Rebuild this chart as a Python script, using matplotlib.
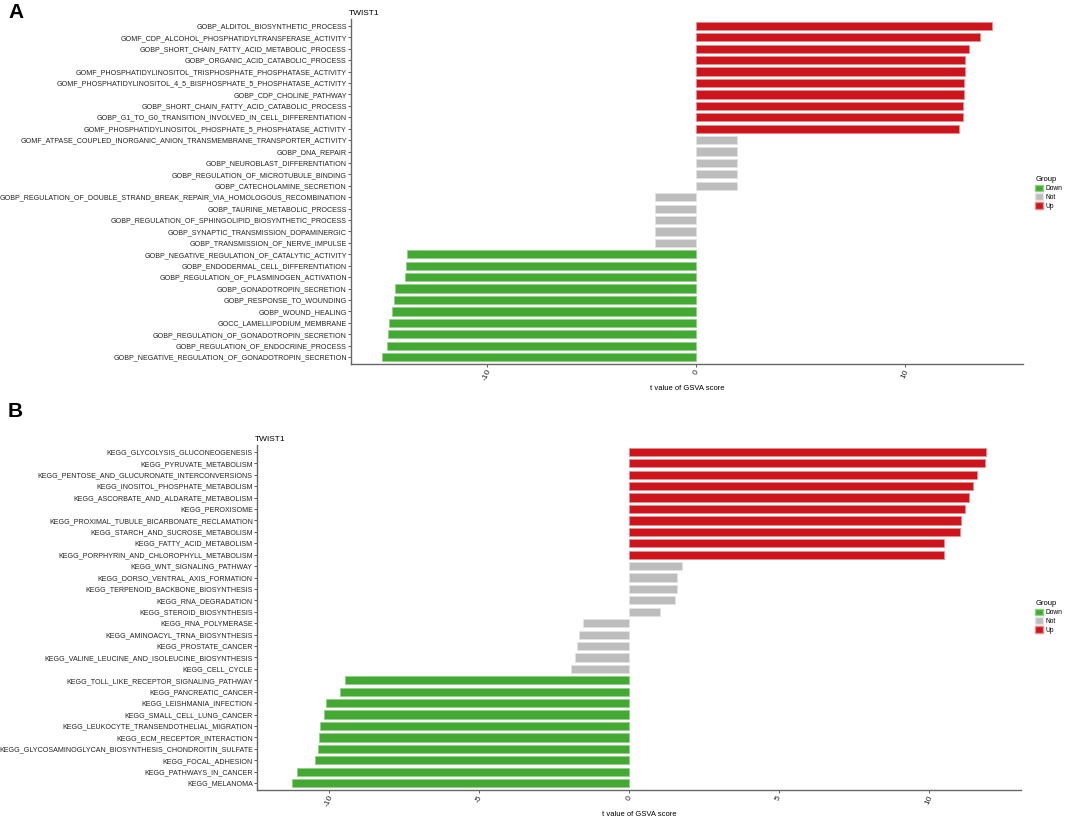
import numpy as np
import matplotlib
matplotlib.use("Agg")
import matplotlib.pyplot as plt
from matplotlib.patches import Patch

plt.rcParams['font.family'] = ['Liberation Sans', 'DejaVu Sans']

# panel A: GO terms, top to bottom
go_terms = [
    "GOBP_ALDITOL_BIOSYNTHETIC_PROCESS",
    "GOMF_CDP_ALCOHOL_PHOSPHATIDYLTRANSFERASE_ACTIVITY",
    "GOBP_SHORT_CHAIN_FATTY_ACID_METABOLIC_PROCESS",
    "GOBP_ORGANIC_ACID_CATABOLIC_PROCESS",
    "GOMF_PHOSPHATIDYLINOSITOL_TRISPHOSPHATE_PHOSPHATASE_ACTIVITY",
    "GOMF_PHOSPHATIDYLINOSITOL_4_5_BISPHOSPHATE_5_PHOSPHATASE_ACTIVITY",
    "GOBP_CDP_CHOLINE_PATHWAY",
    "GOBP_SHORT_CHAIN_FATTY_ACID_CATABOLIC_PROCESS",
    "GOBP_G1_TO_G0_TRANSITION_INVOLVED_IN_CELL_DIFFERENTIATION",
    "GOMF_PHOSPHATIDYLINOSITOL_PHOSPHATE_5_PHOSPHATASE_ACTIVITY",
    "GOMF_ATPASE_COUPLED_INORGANIC_ANION_TRANSMEMBRANE_TRANSPORTER_ACTIVITY",
    "GOBP_DNA_REPAIR",
    "GOBP_NEUROBLAST_DIFFERENTIATION",
    "GOBP_REGULATION_OF_MICROTUBULE_BINDING",
    "GOBP_CATECHOLAMINE_SECRETION",
    "GOBP_REGULATION_OF_DOUBLE_STRAND_BREAK_REPAIR_VIA_HOMOLOGOUS_RECOMBINATION",
    "GOBP_TAURINE_METABOLIC_PROCESS",
    "GOBP_REGULATION_OF_SPHINGOLIPID_BIOSYNTHETIC_PROCESS",
    "GOBP_SYNAPTIC_TRANSMISSION_DOPAMINERGIC",
    "GOBP_TRANSMISSION_OF_NERVE_IMPULSE",
    "GOBP_NEGATIVE_REGULATION_OF_CATALYTIC_ACTIVITY",
    "GOBP_ENDODERMAL_CELL_DIFFERENTIATION",
    "GOBP_REGULATION_OF_PLASMINOGEN_ACTIVATION",
    "GOBP_GONADOTROPIN_SECRETION",
    "GOBP_RESPONSE_TO_WOUNDING",
    "GOBP_WOUND_HEALING",
    "GOCC_LAMELLIPODIUM_MEMBRANE",
    "GOBP_REGULATION_OF_GONADOTROPIN_SECRETION",
    "GOBP_REGULATION_OF_ENDOCRINE_PROCESS",
    "GOBP_NEGATIVE_REGULATION_OF_GONADOTROPIN_SECRETION",
]
go_t = [14.17, 13.59, 13.06, 12.86, 12.85, 12.82, 12.80, 12.76, 12.74, 12.59,
        1.97, 1.96, 1.96, 1.95, 1.95,
        -1.96, -1.96, -1.96, -1.96, -1.97,
        -13.82, -13.87, -13.89, -14.36, -14.42, -14.51, -14.64, -14.70, -14.74, -15.02]
go_group = ["Up"] * 10 + ["Not"] * 10 + ["Down"] * 10

# panel B: KEGG pathways, top to bottom
kegg_terms = [
    "KEGG_GLYCOLYSIS_GLUCONEOGENESIS",
    "KEGG_PYRUVATE_METABOLISM",
    "KEGG_PENTOSE_AND_GLUCURONATE_INTERCONVERSIONS",
    "KEGG_INOSITOL_PHOSPHATE_METABOLISM",
    "KEGG_ASCORBATE_AND_ALDARATE_METABOLISM",
    "KEGG_PEROXISOME",
    "KEGG_PROXIMAL_TUBULE_BICARBONATE_RECLAMATION",
    "KEGG_STARCH_AND_SUCROSE_METABOLISM",
    "KEGG_FATTY_ACID_METABOLISM",
    "KEGG_PORPHYRIN_AND_CHLOROPHYLL_METABOLISM",
    "KEGG_WNT_SIGNALING_PATHWAY",
    "KEGG_DORSO_VENTRAL_AXIS_FORMATION",
    "KEGG_TERPENOID_BACKBONE_BIOSYNTHESIS",
    "KEGG_RNA_DEGRADATION",
    "KEGG_STEROID_BIOSYNTHESIS",
    "KEGG_RNA_POLYMERASE",
    "KEGG_AMINOACYL_TRNA_BIOSYNTHESIS",
    "KEGG_PROSTATE_CANCER",
    "KEGG_VALINE_LEUCINE_AND_ISOLEUCINE_BIOSYNTHESIS",
    "KEGG_CELL_CYCLE",
    "KEGG_TOLL_LIKE_RECEPTOR_SIGNALING_PATHWAY",
    "KEGG_PANCREATIC_CANCER",
    "KEGG_LEISHMANIA_INFECTION",
    "KEGG_SMALL_CELL_LUNG_CANCER",
    "KEGG_LEUKOCYTE_TRANSENDOTHELIAL_MIGRATION",
    "KEGG_ECM_RECEPTOR_INTERACTION",
    "KEGG_GLYCOSAMINOGLYCAN_BIOSYNTHESIS_CHONDROITIN_SULFATE",
    "KEGG_FOCAL_ADHESION",
    "KEGG_PATHWAYS_IN_CANCER",
    "KEGG_MELANOMA",
]
kegg_t = [11.92, 11.89, 11.60, 11.49, 11.34, 11.20, 11.08, 11.05, 10.52, 10.52,
          1.79, 1.60, 1.60, 1.55, 1.03,
          -1.53, -1.66, -1.74, -1.81, -1.94,
          -9.48, -9.63, -10.11, -10.15, -10.29, -10.34, -10.36, -10.47, -11.08, -11.24]
kegg_group = ["Up"] * 10 + ["Not"] * 10 + ["Down"] * 10

group_names = ["Down", "Not", "Up"]
group_colors = {"Down": "#43a933", "Not": "#bdbdbd", "Up": "#cb141c"}
edge_colors = {"Down": "#8fd185", "Not": "#e2e2e2", "Up": "#ee8a8e"}

W, H = 1065, 816
fig = plt.figure(figsize=(W / 100, H / 100), dpi=100)


def px_axes(left, top, right, bottom):
    return fig.add_axes([left / W, 1 - bottom / H, (right - left) / W, (bottom - top) / H])


def draw_panel(ax, terms, tvals, groups, xticks):
    n = len(terms)
    y = np.arange(n)
    ax.barh(y, tvals, height=0.72,
            color=[group_colors[g] for g in groups],
            edgecolor=[edge_colors[g] for g in groups], linewidth=0.6)
    ax.margins(x=0.05)
    ax.set_ylim(n - 0.4, -0.6)
    ax.set_yticks(y)
    ax.set_yticklabels(terms, fontsize=5.1, color="#222222")
    ax.set_xticks(xticks)
    ax.set_xticklabels([str(v) for v in xticks], fontsize=6, rotation=65,
                       ha="center", va="top", color="#222222")
    for s in ["top", "right"]:
        ax.spines[s].set_visible(False)
    for s in ["left", "bottom"]:
        ax.spines[s].set_color("#666666")
        ax.spines[s].set_linewidth(1.0)
    ax.tick_params(axis="both", length=2.2, width=0.6, color="#444444", pad=0.8)
    ax.set_xlabel("t value of GSVA score", fontsize=5.5, labelpad=2)
    ax.set_title("TWIST1", fontsize=6, loc="left", pad=3, x=-0.003)


handles = [Patch(facecolor=group_colors[g], edgecolor=edge_colors[g], label=g) for g in group_names]

axA = px_axes(351, 19, 1023, 364)
draw_panel(axA, go_terms, go_t, go_group, [-10, 0, 10])
axB = px_axes(257, 445, 1021, 790)
draw_panel(axB, kegg_terms, kegg_t, kegg_group, [-10, -5, 0, 5, 10])

for ycen in [193, 617]:
    leg = fig.legend(handles=handles, title="Group", loc="center left",
                     bbox_to_anchor=(1032 / W, 1 - ycen / H), frameon=False,
                     fontsize=4.8, title_fontsize=5.5, handlelength=1.1, handleheight=1.1,
                     handletextpad=0.5, labelspacing=0.2, borderpad=0)
    leg._legend_box.align = "left"

fig.text(8 / W, 1 - 3 / H, "A", fontsize=15, fontweight="bold", va="top", ha="left")
fig.text(8 / W, 1 - 402 / H, "B", fontsize=15, fontweight="bold", va="top", ha="left")

fig.savefig("out.png", dpi=100)
